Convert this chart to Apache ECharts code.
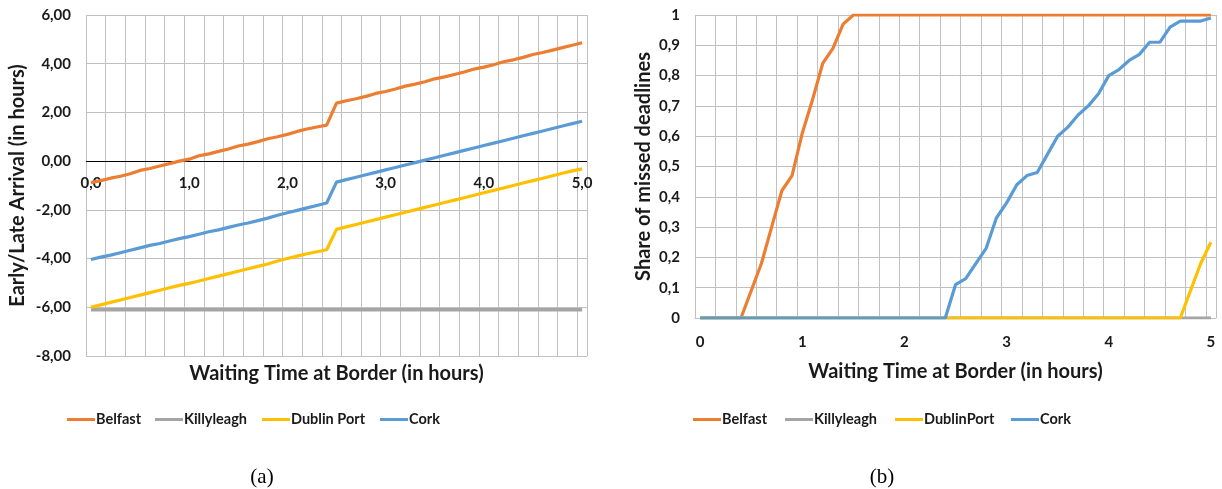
<!DOCTYPE html>
<html>
<head>
<meta charset="utf-8">
<script src="https://cdn.jsdelivr.net/npm/echarts@6/dist/echarts.min.js"></script>
<style>
html,body{margin:0;padding:0;background:#fff;}
#chart{width:1222px;height:489px;}
</style>
</head>
<body>
<div id="chart"></div>
<script>
// Waiting time at border (hours), 0.0 .. 5.0 step 0.1
var waitTimes = [0.0,0.1,0.2,0.3,0.4,0.5,0.6,0.7,0.8,0.9,1.0,1.1,1.2,1.3,1.4,1.5,1.6,1.7,1.8,1.9,2.0,2.1,2.2,2.3,2.4,2.5,2.6,2.7,2.8,2.9,3.0,3.1,3.2,3.3,3.4,3.5,3.6,3.7,3.8,3.9,4.0,4.1,4.2,4.3,4.4,4.5,4.6,4.7,4.8,4.9,5.0];

// (a) Early/Late arrival (hours)
var arrBelfast = [-0.88,-0.80,-0.70,-0.62,-0.52,-0.38,-0.30,-0.20,-0.10,0.00,0.08,0.22,0.30,0.40,0.50,0.62,0.70,0.80,0.92,1.00,1.10,1.22,1.32,1.40,1.48,2.38,2.48,2.56,2.66,2.78,2.86,2.96,3.08,3.16,3.26,3.38,3.46,3.56,3.66,3.78,3.86,3.96,4.08,4.16,4.26,4.38,4.46,4.56,4.66,4.76,4.86];
var arrKillyleagh = [-6.1,-6.1,-6.1,-6.1,-6.1,-6.1,-6.1,-6.1,-6.1,-6.1,-6.1,-6.1,-6.1,-6.1,-6.1,-6.1,-6.1,-6.1,-6.1,-6.1,-6.1,-6.1,-6.1,-6.1,-6.1,-6.1,-6.1,-6.1,-6.1,-6.1,-6.1,-6.1,-6.1,-6.1,-6.1,-6.1,-6.1,-6.1,-6.1,-6.1,-6.1,-6.1,-6.1,-6.1,-6.1,-6.1,-6.1,-6.1,-6.1,-6.1,-6.1];
var arrDublin = [-6.00,-5.90,-5.80,-5.70,-5.60,-5.50,-5.40,-5.30,-5.20,-5.10,-5.02,-4.92,-4.82,-4.72,-4.62,-4.52,-4.42,-4.32,-4.22,-4.10,-4.00,-3.90,-3.80,-3.72,-3.64,-2.80,-2.70,-2.60,-2.50,-2.40,-2.30,-2.20,-2.10,-2.00,-1.90,-1.80,-1.70,-1.60,-1.50,-1.40,-1.30,-1.20,-1.10,-1.00,-0.90,-0.80,-0.70,-0.60,-0.50,-0.40,-0.32];
var arrCork = [-4.04,-3.94,-3.86,-3.76,-3.66,-3.56,-3.46,-3.38,-3.28,-3.18,-3.10,-3.00,-2.90,-2.82,-2.72,-2.62,-2.54,-2.44,-2.34,-2.22,-2.12,-2.02,-1.92,-1.82,-1.72,-0.86,-0.76,-0.66,-0.56,-0.46,-0.36,-0.26,-0.16,-0.06,0.04,0.14,0.24,0.34,0.44,0.54,0.64,0.74,0.84,0.94,1.04,1.14,1.24,1.34,1.44,1.54,1.64];

// (b) Share of missed deadlines
var missBelfast = [0,0,0,0,0,0.09,0.18,0.30,0.42,0.47,0.61,0.72,0.84,0.89,0.97,1,1,1,1,1,1,1,1,1,1,1,1,1,1,1,1,1,1,1,1,1,1,1,1,1,1,1,1,1,1,1,1,1,1,1,1];
var missKillyleagh = [0,0,0,0,0,0,0,0,0,0,0,0,0,0,0,0,0,0,0,0,0,0,0,0,0,0,0,0,0,0,0,0,0,0,0,0,0,0,0,0,0,0,0,0,0,0,0,0,0,0,0];
var missDublin = [0,0,0,0,0,0,0,0,0,0,0,0,0,0,0,0,0,0,0,0,0,0,0,0,0,0,0,0,0,0,0,0,0,0,0,0,0,0,0,0,0,0,0,0,0,0,0,0,0.09,0.18,0.25];
var missCork = [0,0,0,0,0,0,0,0,0,0,0,0,0,0,0,0,0,0,0,0,0,0,0,0,0,0.11,0.13,0.18,0.23,0.33,0.38,0.44,0.47,0.48,0.54,0.60,0.63,0.67,0.70,0.74,0.80,0.82,0.85,0.87,0.91,0.91,0.96,0.98,0.98,0.98,0.99];

var colors = {Belfast:'#ED7D31', Killyleagh:'#A5A5A5', Dublin:'#FFC000', Cork:'#5B9BD5'};
var FONT = 'Lato';
var txt = '#1a1a1a';
var gridCol = '#c0c0c0';

var catsA = waitTimes.map(function(v){return v.toFixed(1).replace('.',',');});
var catsB = waitTimes.map(function(v){return String(v);});

function line(name, data, color, xi, yi, w){
  return {name:name, type:'line', xAxisIndex:xi, yAxisIndex:yi, data:data, symbol:'none',
    lineStyle:{color:color, width:w||3.2}, itemStyle:{color:color}, animation:false, z:2};
}
function leg(name, left, color){
  return {left:left, top:412, padding:0, itemWidth:28, itemHeight:3, itemGap:0,
    icon:'rect', data:[{name:name, itemStyle:{color:color}}],
    textStyle:{fontFamily:FONT, fontWeight:'bold', fontSize:14.5, color:txt, padding:[0,0,0,-4]},
    selectedMode:false};
}
var titleStyle = {fontFamily:FONT, fontWeight:'bold', fontSize:20, color:txt};
var tickStyle = {fontFamily:FONT, fontWeight:'bold', fontSize:15, color:txt};

var option = {
  animation:false,
  grid:[
    {left:86, right:635, top:15, bottom:133, outerBoundsMode:'none', containLabel:false},
    {left:695, right:6, top:15, bottom:171, outerBoundsMode:'none', containLabel:false}
  ],
  xAxis:[
    {type:'category', gridIndex:0, data:catsA, boundaryGap:true,
     axisLine:{show:false, onZero:false}, axisTick:{show:false},
     axisLabel:Object.assign({interval:9, margin:-180}, tickStyle),
     splitLine:{show:true, interval:1, lineStyle:{color:gridCol, width:1}},
     name:'Waiting Time at Border (in hours)', nameLocation:'middle', nameGap:8,
     nameTextStyle:Object.assign({verticalAlign:'top'}, titleStyle)},
    {type:'category', gridIndex:1, data:catsB, boundaryGap:true,
     axisLine:{lineStyle:{color:gridCol, width:1}}, axisTick:{show:false},
     axisLabel:Object.assign({interval:9, margin:17}, tickStyle),
     splitLine:{show:true, interval:1, lineStyle:{color:gridCol, width:1}},
     name:'Waiting Time at Border (in hours)', nameLocation:'middle', nameGap:44,
     nameTextStyle:titleStyle}
  ],
  yAxis:[
    {type:'value', gridIndex:0, min:-8, max:6, interval:2,
     axisLine:{show:false}, axisTick:{show:false},
     axisLabel:Object.assign({margin:15, formatter:function(v){return v.toFixed(2).replace('.',',');}}, tickStyle),
     splitLine:{lineStyle:{color:gridCol, width:1}},
     name:'Early/Late Arrival (in hours)', nameLocation:'middle', nameGap:58,
     nameTextStyle:titleStyle},
    {type:'value', gridIndex:1, min:0, max:1, interval:0.1,
     axisLine:{show:false}, axisTick:{show:false},
     axisLabel:Object.assign({margin:15, formatter:function(v){return (Math.round(v*10)/10).toString().replace('.',',');}}, tickStyle),
     splitLine:{lineStyle:{color:gridCol, width:1}},
     name:'Share of missed deadlines', nameLocation:'middle', nameGap:41,
     nameTextStyle:titleStyle}
  ],
  legend:[
    leg('Belfast', 67, colors.Belfast),
    leg('Killyleagh', 155, colors.Killyleagh),
    leg('Dublin Port', 262, colors.Dublin),
    leg('Cork', 380, colors.Cork),
    leg('Belfast ', 693, colors.Belfast),
    leg('Killyleagh ', 785, colors.Killyleagh),
    leg('DublinPort', 895, colors.Dublin),
    leg('Cork ', 1011, colors.Cork)
  ],
  graphic:[
    {type:'text', x:262, y:477, style:{text:'(a)', font:'21px "Liberation Serif"', fill:'#000', textAlign:'center', textVerticalAlign:'middle'}},
    {type:'text', x:882, y:477, style:{text:'(b)', font:'21px "Liberation Serif"', fill:'#000', textAlign:'center', textVerticalAlign:'middle'}}
  ],
  series:[
    Object.assign(line('Belfast', arrBelfast, colors.Belfast, 0, 0), {
      markLine:{silent:true, symbol:'none', label:{show:false}, animation:false,
        lineStyle:{color:'#000', width:1, type:'solid'}, data:[{yAxis:0}], z:1}}),
    line('Killyleagh', arrKillyleagh, colors.Killyleagh, 0, 0, 3.5),
    line('Dublin Port', arrDublin, colors.Dublin, 0, 0),
    line('Cork', arrCork, colors.Cork, 0, 0),
    line('Belfast ', missBelfast, colors.Belfast, 1, 1),
    line('Killyleagh ', missKillyleagh, colors.Killyleagh, 1, 1),
    line('DublinPort', missDublin, colors.Dublin, 1, 1),
    line('Cork ', missCork, colors.Cork, 1, 1)
  ]
};
var chart = echarts.init(document.getElementById('chart'), null, {renderer:'canvas'});
chart.setOption(option);
</script>
</body>
</html>
